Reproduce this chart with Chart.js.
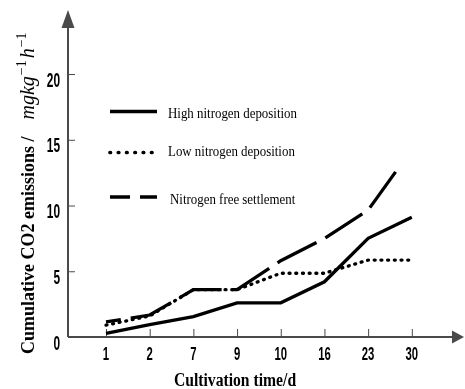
<!DOCTYPE html>
<html>
<head>
<meta charset="utf-8">
<script src="https://cdn.jsdelivr.net/npm/chart.js@4.4.1/dist/chart.umd.min.js"></script>
<style>
  html, body { margin: 0; padding: 0; background: #ffffff; }
  #wrap { width: 465px; height: 389px; }
</style>
</head>
<body>
<div id="wrap"><canvas id="chart" width="465" height="389"></canvas></div>
<script>
// Cultivation days (category labels on the x axis)
const days = ['1', '2', '7', '9', '10', '16', '23', '30'];

// Cumulative CO2 emissions, mg kg^-1 h^-1
const highNitrogen = [0.27, 0.95, 1.55, 2.6, 2.6, 4.2, 7.5, 9.1];
const lowNitrogen  = [0.9, 1.6, 3.6, 3.6, 4.85, 4.85, 5.85, 5.85];
const freeNitrogen = [1.15, 1.67, 3.6, 3.6, 5.8, 7.5, 9.65, 12.7];
// the nitrogen-free series' last reading sits part way between day 23 and day 30
const freeDayIndex = [0, 1, 2, 3, 4, 5, 6, 6.66];

const seriesNames = ['High nitrogen deposition', 'Low nitrogen deposition', 'Nitrogen free settlement'];
const yTickValues = [0, 5, 10, 15, 20];

const AXIS = '#4a4a4a';
const INK = '#000000';

const toPoints = (vals, xs) => vals.map((v, i) => ({ x: xs ? xs[i] : i, y: v }));

// Draws text squeezed horizontally (narrow figure style)
function narrowText(ctx, text, x, y, font, squeeze, align) {
  ctx.save();
  ctx.font = font;
  const w = ctx.measureText(text).width * squeeze;
  let left = x;
  if (align === 'center') left = x - w / 2;
  else if (align === 'right') left = x - w;
  ctx.translate(left, y);
  ctx.scale(squeeze, 1);
  ctx.textAlign = 'left';
  ctx.textBaseline = 'alphabetic';
  ctx.fillText(text, 0, 0);
  ctx.restore();
}

// Axis lines with arrowheads, short inward tick marks and tick labels placed by the scales
const arrowAxes = {
  id: 'arrowAxes',
  beforeDatasetsDraw(chart) {
    const { ctx, chartArea: a, scales: { x, y } } = chart;
    ctx.save();
    ctx.strokeStyle = AXIS;
    ctx.fillStyle = AXIS;
    ctx.lineWidth = 1;
    ctx.beginPath();
    x.ticks.forEach(t => {
      if (!Number.isInteger(t.value) || days[t.value] === undefined) return;
      const px = x.getPixelForValue(t.value);
      ctx.moveTo(px + 0.5, a.bottom);
      ctx.lineTo(px + 0.5, a.bottom - 8);
    });
    y.ticks.forEach(t => {
      if (t.value === 0) return;
      const py = y.getPixelForValue(t.value);
      ctx.moveTo(a.left, py + 0.5);
      ctx.lineTo(a.left + 7, py + 0.5);
    });
    ctx.stroke();

    ctx.lineWidth = 2;
    ctx.beginPath();
    ctx.moveTo(a.left, a.bottom);
    ctx.lineTo(a.right, a.bottom);
    ctx.moveTo(a.left, a.bottom);
    ctx.lineTo(a.left, a.top);
    ctx.stroke();

    ctx.beginPath();
    ctx.moveTo(a.left, a.top - 18);
    ctx.lineTo(a.left - 6.5, a.top);
    ctx.lineTo(a.left + 6.5, a.top);
    ctx.closePath();
    ctx.fill();

    ctx.beginPath();
    ctx.moveTo(a.right + 12, a.bottom);
    ctx.lineTo(a.right, a.bottom - 6.5);
    ctx.lineTo(a.right, a.bottom + 6.5);
    ctx.closePath();
    ctx.fill();

    // tick labels
    ctx.fillStyle = INK;
    x.ticks.forEach(t => {
      if (!Number.isInteger(t.value) || days[t.value] === undefined) return;
      narrowText(ctx, days[t.value], x.getPixelForValue(t.value), a.bottom + 23,
        'bold 18px "Liberation Sans", Arial, sans-serif', 0.63, 'center');
    });
    y.ticks.forEach(t => {
      narrowText(ctx, String(t.value), a.left - 8, y.getPixelForValue(t.value) + 12.5,
        'bold 19.5px "Liberation Sans", Arial, sans-serif', 0.61, 'right');
    });
    ctx.restore();
  }
};

// Legend drawn inside the plot, using each dataset's own line style
const innerLegend = {
  id: 'innerLegend',
  afterDatasetsDraw(chart, args, opts) {
    const { ctx } = chart;
    ctx.save();
    chart.data.datasets.forEach((ds, i) => {
      const row = opts.rows[i];
      ctx.strokeStyle = ds.borderColor;
      ctx.lineWidth = opts.lineWidth;
      ctx.lineCap = row.cap;
      ctx.setLineDash(row.dash);
      ctx.beginPath();
      ctx.moveTo(opts.x0, row.lineY);
      ctx.lineTo(opts.x1, row.lineY);
      ctx.stroke();
      ctx.setLineDash([]);
      ctx.fillStyle = INK;
      narrowText(ctx, ds.label, row.textX, row.textY, opts.font, opts.squeeze, 'left');
    });
    ctx.restore();
  }
};

// Axis titles (the y title carries an italic unit with superscripts)
const axisTitles = {
  id: 'axisTitles',
  afterDraw(chart) {
    const { ctx } = chart;
    ctx.save();
    ctx.fillStyle = INK;
    ctx.textBaseline = 'alphabetic';

    narrowText(ctx, 'Cultivation time/d', 235, 386,
      'bold 18px "Liberation Serif", "Times New Roman", serif', 0.87, 'center');

    ctx.save();
    ctx.translate(33.5, 354);
    ctx.rotate(-Math.PI / 2);
    let pos = 0;
    ctx.font = 'bold 18px "Liberation Serif", "Times New Roman", serif';
    const lead = 'Cumulative CO2 emissions /';
    ctx.fillText(lead, pos, 0);
    pos += ctx.measureText(lead).width + 17;
    const parts = [
      { t: 'mgkg', f: 'italic 20px "Liberation Serif", serif', dy: 0, gap: 1 },
      { t: '\u22121', f: '14px "Liberation Serif", serif', dy: -8, gap: 2 },
      { t: 'h', f: 'italic 20px "Liberation Serif", serif', dy: 0, gap: 1 },
      { t: '\u22121', f: '14px "Liberation Serif", serif', dy: -8, gap: 0 }
    ];
    parts.forEach(p => {
      ctx.font = p.f;
      ctx.fillText(p.t, pos, p.dy);
      pos += ctx.measureText(p.t).width + p.gap;
    });
    ctx.restore();
    ctx.restore();
  }
};

new Chart(document.getElementById('chart'), {
  type: 'line',
  data: {
    datasets: [
      {
        label: seriesNames[0],
        data: toPoints(highNitrogen),
        borderColor: INK,
        borderWidth: 3.3,
        pointRadius: 0,
        tension: 0,
        fill: false
      },
      {
        label: seriesNames[1],
        data: toPoints(lowNitrogen),
        borderColor: INK,
        borderWidth: 3.3,
        borderDash: [1, 5.7],
        borderCapStyle: 'round',
        pointRadius: 0,
        tension: 0,
        fill: false
      },
      {
        label: seriesNames[2],
        data: toPoints(freeNitrogen, freeDayIndex),
        borderColor: INK,
        borderWidth: 3.3,
        borderDash: [44, 10],
        borderDashOffset: 29,
        pointRadius: 0,
        tension: 0,
        fill: false
      }
    ]
  },
  options: {
    responsive: false,
    animation: false,
    devicePixelRatio: 1,
    layout: { padding: { top: 28, right: 13, left: 0, bottom: 0 } },
    scales: {
      x: {
        type: 'linear',
        min: -0.87,
        max: 7.92,
        afterFit: s => { s.height = 52; },
        grid: { display: false, drawTicks: false },
        border: { display: false },
        ticks: {
          display: false,
          stepSize: 1,
          includeBounds: false,
          autoSkip: false,
          callback: v => (Number.isInteger(v) && days[v] !== undefined ? days[v] : '')
        }
      },
      y: {
        type: 'linear',
        min: 0,
        max: 23.5,
        afterFit: s => { s.width = 68; },
        afterBuildTicks: s => { s.ticks = yTickValues.map(v => ({ value: v })); },
        grid: { display: false, drawTicks: false },
        border: { display: false },
        ticks: { display: false }
      }
    },
    plugins: {
      legend: { display: false },
      tooltip: { enabled: false },
      innerLegend: {
        x0: 110,
        x1: 157,
        lineWidth: 3.7,
        squeeze: 0.86,
        font: '15px "Liberation Serif", "Times New Roman", serif',
        rows: [
          { lineY: 111.5, dash: [], cap: 'butt', textX: 168, textY: 118 },
          { lineY: 152.5, dash: [0.5, 7.8], cap: 'round', textX: 168, textY: 156 },
          { lineY: 197, dash: [20, 10], cap: 'butt', textX: 170, textY: 204 }
        ]
      }
    }
  },
  plugins: [arrowAxes, innerLegend, axisTitles]
});
</script>
</body>
</html>
